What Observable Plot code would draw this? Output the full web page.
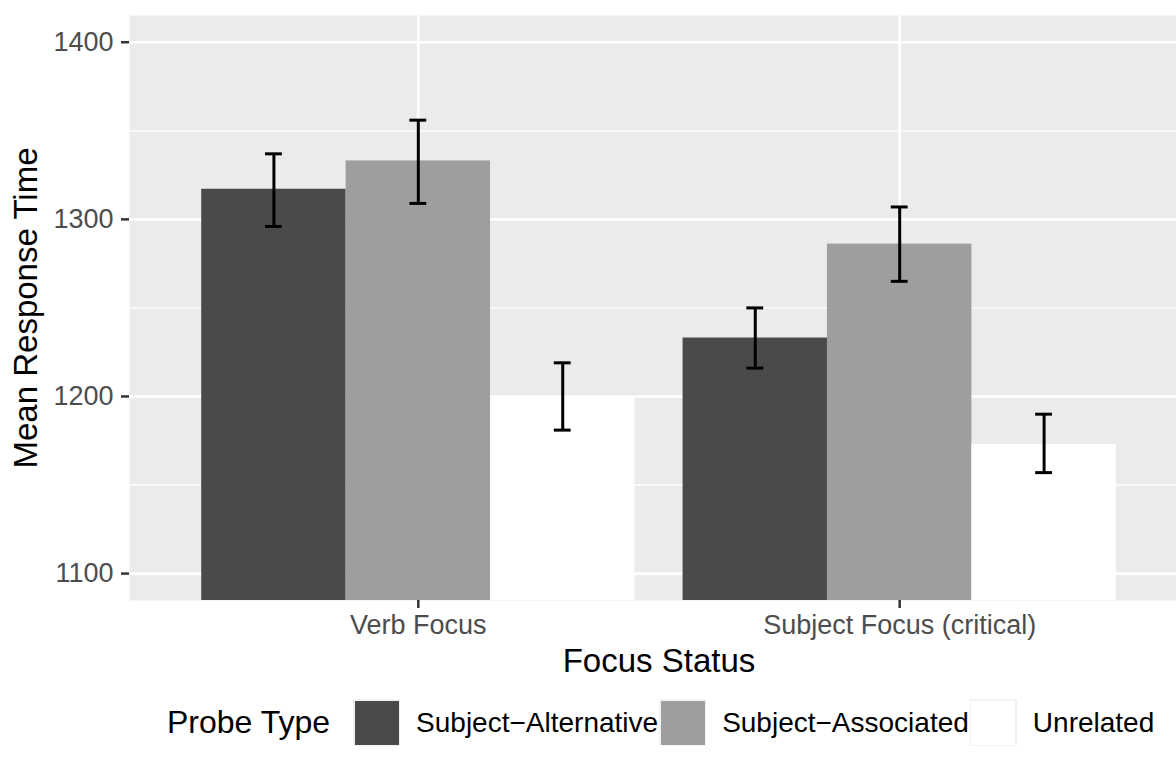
<!DOCTYPE html>
<html><head><meta charset="utf-8">
<script src="https://cdn.jsdelivr.net/npm/d3@7"></script>
<script src="https://cdn.jsdelivr.net/npm/@observablehq/plot@0.6"></script>
<style>
html,body{margin:0;padding:0;overflow:hidden;background:#fff;font-family:"Liberation Sans",Arial,sans-serif;}
#legend{height:75px;display:flex;align-items:flex-start;padding-top:9px;padding-left:167px;box-sizing:border-box;}
#legend .title{font-size:32px;line-height:47px;color:#000;margin-right:23px;white-space:nowrap;}
#legend .key{width:47px;height:47px;background:#F2F2F2;position:relative;flex:none;}
#legend .key span{position:absolute;left:1.5px;top:1.5px;right:1.5px;bottom:1.5px;}
#legend .lab{font-size:28px;line-height:47px;color:#000;margin-left:16px;margin-right:1px;white-space:nowrap;}
</style></head>
<body><div id="chart"></div><div id="legend"></div>
<script>
// ---- data ----
const focus = ["Verb Focus", "Subject Focus (critical)"];
const probes = ["Subject\u2212Alternative", "Subject\u2212Associated", "Unrelated"];
const meanVerb = [1317, 1333, 1200];
const meanSubject = [1233, 1286, 1173];
const lowerVerb = [1296, 1309, 1181];
const upperVerb = [1337, 1356, 1219];
const lowerSubject = [1216, 1265, 1157];
const upperSubject = [1250, 1307, 1190];
const yTicks = [1100, 1200, 1300, 1400];
const yMinor = [1150, 1250, 1350];
const fills = ["#4A4A4A", "#9E9E9E", "#FFFFFF"];

const means = [meanVerb, meanSubject];
const lows = [lowerVerb, lowerSubject];
const ups = [upperVerb, upperSubject];

const rows = [];
focus.forEach((f, i) => probes.forEach((p, j) => rows.push({
  focus: f, probe: p, group: i + 1, slot: j,
  mean: means[i][j], lower: lows[i][j], upper: ups[i][j]
})));
const xTicks = focus.map((_, i) => i + 1);
const dodge = 0.9 / probes.length;
const capHalf = 0.0175;
const pos = d => d.group + (d.slot - (probes.length - 1) / 2) * dodge;

const chart = Plot.plot({
  width: 1176, height: 690,
  marginLeft: 129, marginRight: 0, marginTop: 15, marginBottom: 90,
  style: {fontFamily: '"Liberation Sans", Arial, sans-serif', background: "white"},
  x: {type: "linear", domain: [0.4, 2.6], range: [129, 1188]},
  y: {domain: [1084.8, 1415.1]},
  color: {domain: probes, range: fills},
  marks: [
    Plot.frame({fill: "#EBEBEB", stroke: "none"}),
    Plot.ruleY(yMinor, {stroke: "white", strokeWidth: 1.3}),
    Plot.ruleY(yTicks, {stroke: "white", strokeWidth: 2.6}),
    Plot.ruleX(xTicks, {stroke: "white", strokeWidth: 2.6}),
    Plot.rectY(rows, {x1: d => pos(d) - dodge / 2, x2: d => pos(d) + dodge / 2, y1: 0, y2: "mean", fill: "probe", clip: true}),
    Plot.ruleX(rows, {x: pos, y1: "lower", y2: "upper", stroke: "black", strokeWidth: 3}),
    Plot.ruleY(rows, {y: "lower", x1: d => pos(d) - capHalf, x2: d => pos(d) + capHalf, stroke: "black", strokeWidth: 3}),
    Plot.ruleY(rows, {y: "upper", x1: d => pos(d) - capHalf, x2: d => pos(d) + capHalf, stroke: "black", strokeWidth: 3}),
    Plot.axisY({ticks: yTicks, tickFormat: d => String(d), tickSize: 8, tickPadding: 8, fontSize: 27, stroke: "#333333", fill: "#4D4D4D", strokeWidth: 2.5, label: null}),
    Plot.axisX({ticks: xTicks, tickFormat: t => focus[t - 1], tickSize: 8, tickPadding: 6, fontSize: 27, stroke: "#333333", fill: "#4D4D4D", strokeWidth: 2.5, label: null}),
    Plot.text(["Focus Status"], {text: d => d, frameAnchor: "bottom", dx: 6, dy: 61, fontSize: 33, lineAnchor: "middle", textAnchor: "middle", fill: "black"}),
    Plot.text(["Mean Response Time"], {text: d => d, frameAnchor: "left", rotate: -90, dx: -103, fontSize: 33, lineAnchor: "middle", textAnchor: "middle", fill: "black"})
  ]
});
document.getElementById("chart").appendChild(chart);

const legend = document.getElementById("legend");
const t = document.createElement("div");
t.className = "title"; t.textContent = "Probe Type";
legend.appendChild(t);
probes.forEach((p, i) => {
  const k = document.createElement("div"); k.className = "key";
  const s = document.createElement("span"); s.style.background = fills[i];
  k.appendChild(s); legend.appendChild(k);
  const l = document.createElement("div"); l.className = "lab"; l.textContent = p;
  legend.appendChild(l);
});
</script>
</body></html>
